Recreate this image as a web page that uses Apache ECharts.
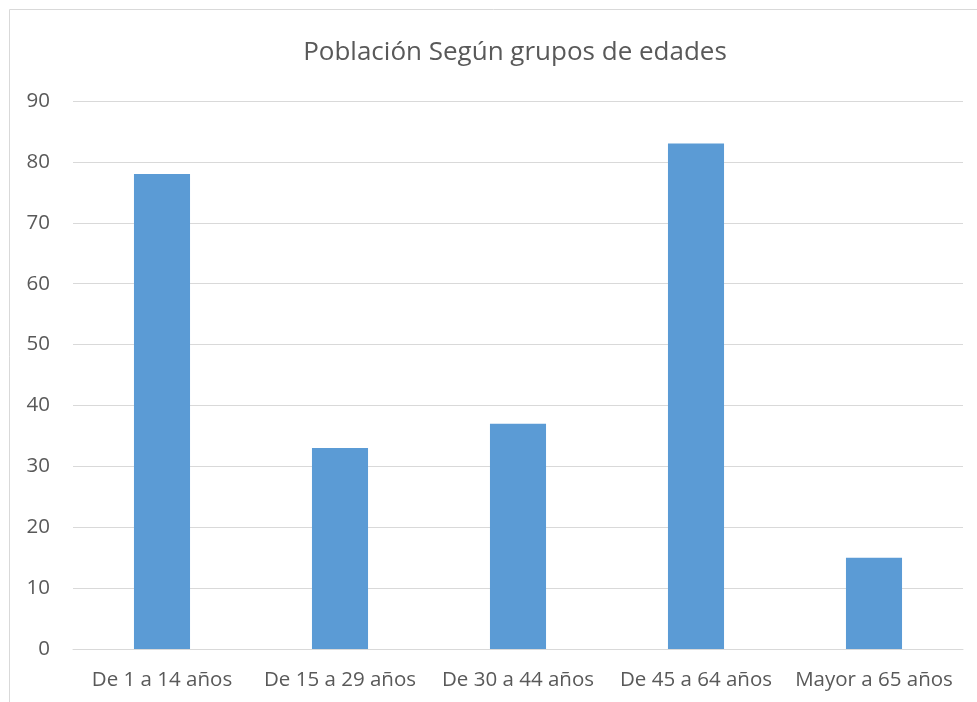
<!DOCTYPE html>
<html>
<head>
<meta charset="utf-8">
<script src="https://cdn.jsdelivr.net/npm/echarts@6/dist/echarts.min.js"></script>
<style>
  html, body { margin: 0; padding: 0; background: #fff; }
  #chart { width: 977px; height: 702px; }
</style>
</head>
<body>
<div id="chart"></div>
<script>
const categories = ["De 1 a 14 años", "De 15 a 29 años", "De 30 a 44 años", "De 45 a 64 años", "Mayor a 65 años"];
const values = [78, 33, 37, 83, 15];
const yTicks = { min: 0, max: 90, interval: 10 };

const chart = echarts.init(document.getElementById("chart"));
chart.setOption({
  animation: false,
  textStyle: { fontFamily: "Open Sans" },
  title: {
    text: "Población Según grupos de edades",
    left: 510,
    top: 35,
    textAlign: "center",
    textStyle: { fontSize: 26, fontWeight: "normal", color: "#595959", fontFamily: "Open Sans" }
  },
  graphic: [
    {
      type: "rect",
      shape: { x: 9.5, y: 9.5, width: 1000, height: 1000 },
      style: { fill: "none", stroke: "#d9d9d9", lineWidth: 1 },
      silent: true
    }
  ],
  grid: { left: 73, right: 14, top: 101, bottom: 53, containLabel: false },
  xAxis: {
    type: "category",
    data: categories,
    axisLine: { lineStyle: { color: "#d9d9d9", width: 1 } },
    axisTick: { show: false },
    axisLabel: { color: "#595959", fontSize: 20.5, margin: 21, interval: 0 }
  },
  yAxis: {
    type: "value",
    min: yTicks.min,
    max: yTicks.max,
    interval: yTicks.interval,
    axisLine: { show: false },
    axisTick: { show: false },
    splitLine: { lineStyle: { color: "#d9d9d9", width: 1 } },
    axisLabel: { color: "#595959", fontSize: 20.5, margin: 23 }
  },
  series: [
    {
      type: "bar",
      data: values,
      barWidth: "31.5%",
      itemStyle: { color: "#5b9bd5" }
    }
  ]
});
</script>
</body>
</html>
